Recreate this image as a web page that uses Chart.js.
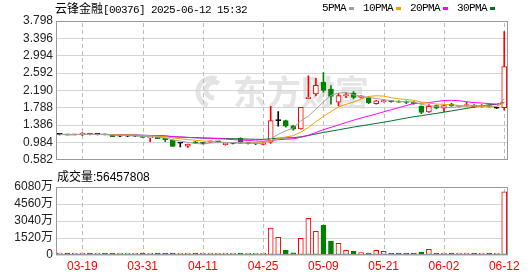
<!DOCTYPE html>
<html>
<head>
<meta charset="utf-8">
<script src="https://cdn.jsdelivr.net/npm/chart.js@4.4.1/dist/chart.umd.min.js"></script>
<style>
  body { margin: 0; background: #fff; width: 530px; height: 276px; overflow: hidden; position: relative; font-family: 'Liberation Sans', 'Noto Sans CJK SC', sans-serif; }
  .wrap { position: absolute; left: 0; width: 530px; }
  #price-wrap { top: 0; height: 170px; }
  #vol-wrap { top: 170px; height: 106px; }
  .mono { font-family: 'Liberation Mono', monospace; font-size: 11px; letter-spacing: -0.6px; }
  .cjk { font-family: 'Noto Sans CJK SC', sans-serif; font-size: 12px; }
  #title { position: absolute; left: 55px; top: 1px; line-height: 14px; color: #000; white-space: pre; z-index: 2; }
  #legend { position: absolute; left: 322px; top: 1px; line-height: 14px; display: flex; align-items: center; color: #000; z-index: 2; }
  #legend i { display: inline-block; width: 5px; height: 3px; margin: 1px 9px 0 3px; }
  #vol-title { position: absolute; left: 57px; top: 170px; font-size: 12px; line-height: 14px; color: #000; z-index: 2; }
</style>
</head>
<body>
<div id="title"><span class="cjk">云锋金融</span><span class="mono">[00376] 2025-06-12 15:32</span></div>
<div id="legend"></div>
<div id="vol-title">成交量:56457808</div>
<div class="wrap" id="price-wrap"><canvas id="chart-price"></canvas></div>
<div class="wrap" id="vol-wrap"><canvas id="chart-vol"></canvas></div>
<script>
const dates = [
    '03-14', '03-17', '03-18', '03-19', '03-20', '03-21', '03-24', '03-25', '03-26', '03-27',
    '03-28', '03-31', '04-01', '04-02', '04-03', '04-07', '04-08', '04-09', '04-10', '04-11',
    '04-14', '04-15', '04-16', '04-17', '04-22', '04-23', '04-24', '04-25', '04-28', '04-29',
    '04-30', '05-02', '05-06', '05-07', '05-08', '05-09', '05-12', '05-13', '05-14', '05-15',
    '05-16', '05-19', '05-20', '05-21', '05-22', '05-23', '05-26', '05-27', '05-28', '05-29',
    '05-30', '06-02', '06-03', '06-04', '06-05', '06-06', '06-09', '06-10', '06-11', '06-12'
];
const tickDates = ['03-19', '03-31', '04-11', '04-25', '05-09', '05-21', '06-02', '06-12'];

const opens = [
    1.17, 1.17, 1.16, 1.17, 1.18, 1.17, 1.17, 1.15, 1.13, 1.13,
    1.13, 1.13, 1.09, 1.10, 1.08, 1.04, 0.966, 0.90, 1.00, 0.96,
    0.99, 1.00, 0.93, 0.96, 1.08, 0.96, 0.95, 0.94, 0.99, 1.49,
    1.49, 1.37, 1.30, 2.00, 2.11, 2.38, 2.22, 1.92, 2.07, 2.13,
    2.03, 2.02, 1.88, 1.93, 1.95, 1.94, 1.93, 1.92, 1.82, 1.69,
    1.84, 1.78, 1.87, 1.82, 1.84, 1.85, 1.81, 1.84, 1.78, 1.79
];
const highs = [
    1.18, 1.17, 1.17, 1.21, 1.18, 1.18, 1.18, 1.15, 1.14, 1.14,
    1.13, 1.13, 1.11, 1.10, 1.08, 1.04, 0.966, 0.944, 1.01, 0.97,
    1.02, 1.01, 0.97, 0.97, 1.09, 0.97, 0.96, 0.98, 1.82, 1.70,
    1.50, 1.38, 1.80, 2.53, 2.47, 2.60, 2.30, 2.12, 2.14, 2.16,
    2.07, 2.04, 1.96, 1.98, 1.96, 1.95, 1.95, 1.93, 1.83, 1.86,
    1.85, 1.85, 1.89, 1.84, 1.92, 1.86, 1.86, 1.85, 1.79, 3.55
];
const lows = [
    1.16, 1.16, 1.16, 1.14, 1.16, 1.16, 1.16, 1.12, 1.12, 1.12,
    1.12, 1.10, 1.00, 1.07, 1.00, 0.89, 0.88, 0.87, 0.96, 0.95,
    0.98, 0.99, 0.92, 0.95, 0.96, 0.95, 0.94, 0.93, 0.96, 1.36,
    1.34, 1.27, 1.29, 2.00, 2.06, 2.15, 1.87, 1.83, 2.02, 1.99,
    2.01, 1.88, 1.87, 1.92, 1.92, 1.91, 1.88, 1.87, 1.65, 1.68,
    1.76, 1.70, 1.82, 1.80, 1.82, 1.80, 1.80, 1.80, 1.77, 1.73
];
const closes = [
    1.17, 1.16, 1.17, 1.18, 1.17, 1.17, 1.16, 1.12, 1.13, 1.13,
    1.13, 1.10, 1.10, 1.07, 1.05, 0.89, 0.966, 0.944, 0.97, 0.96,
    1.02, 1.00, 0.97, 0.96, 0.96, 0.96, 0.95, 0.97, 1.49, 1.49,
    1.36, 1.29, 1.80, 2.03, 2.31, 2.19, 2.05, 2.07, 2.09, 2.03,
    2.04, 1.90, 1.95, 1.95, 1.93, 1.92, 1.91, 1.88, 1.68, 1.82,
    1.78, 1.84, 1.83, 1.83, 1.86, 1.81, 1.84, 1.81, 1.78, 2.74
];
// 成交量, 单位: 万股
const volumes = [
    110, 90, 100, 130, 100, 90, 100, 120, 90, 100,
    80, 110, 130, 110, 120, 150, 100, 130, 110, 90,
    120, 20, 110, 90, 140, 100, 110, 130, 2410, 1580,
    450, 200, 1490, 3280, 2120, 2680, 1250, 1045, 420, 330,
    210, 180, 420, 330, 180, 110, 110, 180, 270, 510,
    180, 110, 180, 110, 180, 110, 180, 110, 110, 5645.78
];

const priceTicks = [0.582, 0.984, 1.386, 1.788, 2.190, 2.592, 2.994, 3.396, 3.798];
const volTicks = [0, 1520, 3040, 4560, 6080];
const maPeriods = [5, 10, 20, 30];

const RED = '#ff0000', GREEN = '#008000', BLACK = '#000000';
const maColors = ['#a0a0a0', '#f0a000', '#ff00ff', '#00702e'];
const AXIS_W = 56;
const FONT = { family: "'Liberation Sans', 'Noto Sans CJK SC', sans-serif", size: 12 };

function movingAverage(values, n) {
    return values.map((_, i) => {
        const win = values.slice(Math.max(0, i - n + 1), i + 1);
        return win.reduce((a, b) => a + b, 0) / win.length;
    });
}

function candleColor(i) {
    if (closes[i] > opens[i]) return RED;
    if (closes[i] < opens[i]) return GREEN;
    return BLACK;
}

// legend: text then coloured box
document.getElementById('legend').innerHTML = maPeriods
    .map((p, k) => `<span class="mono">${p}PMA</span><i style="background:${maColors[k]}"></i>`)
    .join('');

// dashed vertical lines at the labelled dates, under the bars
const dateLinesPlugin = {
    id: 'dateLines',
    beforeDatasetsDraw(chart) {
        const { ctx, chartArea: a, scales: { x } } = chart;
        ctx.save();
        ctx.fillStyle = '#bdbdbd';
        tickDates.forEach(d => {
            const px = Math.round(x.getPixelForValue(dates.indexOf(d)));
            for (let y = Math.round(a.top) + 2; y < a.bottom - 1; y += 7) {
                ctx.fillRect(px, y, 1, Math.min(4, a.bottom - 1 - y));
            }
        });
        ctx.restore();
    }
};

const framePlugin = {
    id: 'frame',
    afterDraw(chart) {
        const { ctx, chartArea: a } = chart;
        ctx.save();
        ctx.strokeStyle = '#999999';
        ctx.lineWidth = 1;
        ctx.strokeRect(Math.round(a.left) + 0.5, Math.round(a.top) + 0.5,
            Math.round(a.right - a.left) - 1, Math.round(a.bottom - a.top) - 1);
        ctx.restore();
    }
};

const watermarkPlugin = {
    id: 'watermark',
    beforeDraw(chart) {
        const { ctx } = chart;
        ctx.save();
        ctx.fillStyle = '#e4e4e4';
        ctx.strokeStyle = '#e4e4e4';
        // swirl logo
        ctx.lineWidth = 5;
        ctx.beginPath();
        ctx.arc(212, 92, 14, Math.PI * 0.6, Math.PI * 1.6);
        ctx.stroke();
        ctx.beginPath();
        ctx.arc(214, 90, 8, Math.PI * 0.5, Math.PI * 1.7);
        ctx.stroke();
        ctx.font = "bold 34px 'Noto Sans CJK SC'";
        ctx.textBaseline = 'alphabetic';
        ctx.fillText('东方财富', 233, 105);
        ctx.restore();
    }
};

function yAxis(min, max, ticks, fmt) {
    return {
        position: 'left',
        min: min,
        max: max,
        afterFit: s => { s.width = AXIS_W; },
        afterBuildTicks: s => { s.ticks = ticks.map(v => ({ value: v })); },
        border: { display: false },
        grid: { color: '#d4d4d4', drawTicks: false },
        ticks: { color: '#222', font: FONT, padding: 3, autoSkip: false, callback: fmt }
    };
}

const commonOpts = {
    responsive: true,
    maintainAspectRatio: false,
    animation: false,
    events: [],
    plugins: { legend: { display: false }, tooltip: { enabled: false } }
};

const upIdx = closes.map((c, i) => c >= opens[i]);

const priceChart = new Chart(document.getElementById('chart-price'), {
    type: 'bar',
    data: {
        labels: dates,
        datasets: [
            ...maPeriods.map((p, k) => ({
                type: 'line',
                label: p + 'PMA',
                data: movingAverage(closes, p),
                borderColor: maColors[k],
                borderWidth: 1,
                pointRadius: 0,
                tension: 0,
                order: 0
            })),
            {
                label: 'body',
                data: opens.map((o, i) => [o, closes[i]]),
                backgroundColor: opens.map((o, i) => closes[i] > o ? '#ffffff' : candleColor(i)),
                borderColor: opens.map((o, i) => candleColor(i)),
                borderWidth: 1,
                borderSkipped: false,
                barThickness: 5,
                minBarLength: 1,
                grouped: false,
                order: 1
            },
            {
                label: 'wick',
                data: lows.map((l, i) => [l, highs[i]]),
                backgroundColor: lows.map((l, i) => candleColor(i)),
                barThickness: 1,
                grouped: false,
                order: 2
            }
        ]
    },
    options: {
        ...commonOpts,
        layout: { padding: { top: 21, bottom: 5, right: 22, left: 0 } },
        scales: {
            x: {
                offset: true,
                afterFit: s => { s.height = 0; },
                border: { display: false },
                grid: { display: false, drawTicks: false },
                ticks: { display: false, autoSkip: false }
            },
            y: yAxis(priceTicks[0], priceTicks[priceTicks.length - 1], priceTicks, v => v.toFixed(3))
        }
    },
    plugins: [watermarkPlugin, dateLinesPlugin, framePlugin]
});

const volChart = new Chart(document.getElementById('chart-vol'), {
    type: 'bar',
    data: {
        labels: dates,
        datasets: [{
            label: '成交量',
            data: volumes,
            backgroundColor: upIdx.map(u => u ? '#ffffff' : GREEN),
            borderColor: upIdx.map(u => u ? RED : GREEN),
            borderWidth: 1,
            borderSkipped: false,
            barThickness: 5,
            minBarLength: 2
        }]
    },
    options: {
        ...commonOpts,
        layout: { padding: { top: 17, bottom: 0, right: 22, left: 0 } },
        scales: {
            x: {
                offset: true,
                afterFit: s => { s.height = 21; },
                border: { display: false },
                grid: { display: false, drawTicks: false },
                ticks: {
                    autoSkip: false,
                    maxRotation: 0,
                    padding: 4,
                    color: RED,
                    font: FONT,
                    callback: (v, i) => tickDates.includes(dates[i]) ? dates[i] : ''
                }
            },
            y: yAxis(0, volTicks[volTicks.length - 1], volTicks, v => v === 0 ? '0' : v + '万')
        }
    },
    plugins: [dateLinesPlugin, framePlugin]
});
</script>
</body>
</html>
